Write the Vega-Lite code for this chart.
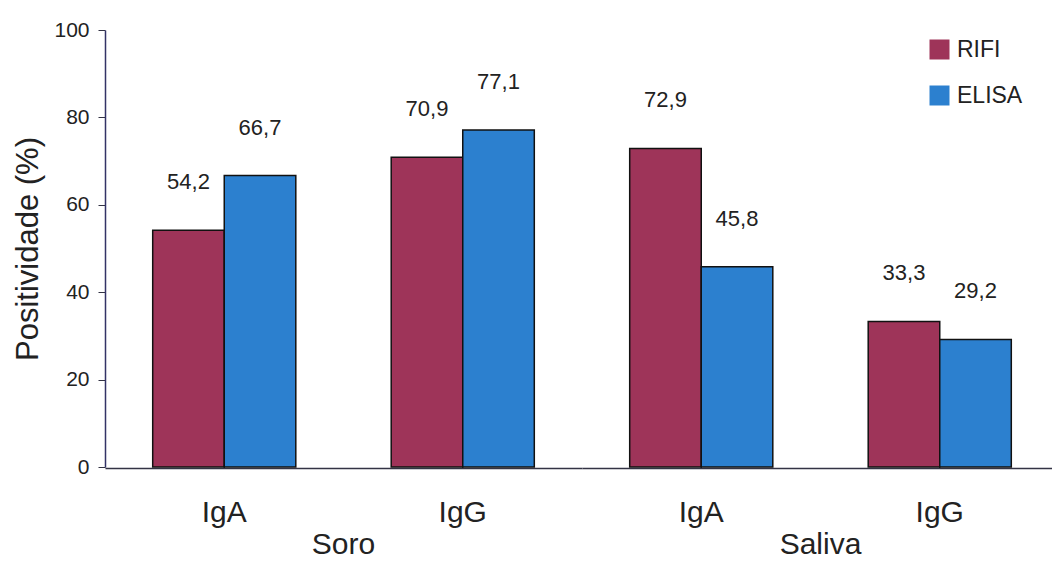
{
  "$schema": "https://vega.github.io/schema/vega-lite/v6.json",
  "background": "white",
  "padding": {"left": 12, "top": 19, "right": 0, "bottom": 0},
  "data": {
    "values": [
      {"grupo": "Soro", "ig": "IgA", "metodo": "RIFI", "valor": 54.2},
      {"grupo": "Soro", "ig": "IgA", "metodo": "ELISA", "valor": 66.7},
      {"grupo": "Soro", "ig": "IgG", "metodo": "RIFI", "valor": 70.9},
      {"grupo": "Soro", "ig": "IgG", "metodo": "ELISA", "valor": 77.1},
      {"grupo": "Saliva", "ig": "IgA", "metodo": "RIFI", "valor": 72.9},
      {"grupo": "Saliva", "ig": "IgA", "metodo": "ELISA", "valor": 45.8},
      {"grupo": "Saliva", "ig": "IgG", "metodo": "RIFI", "valor": 33.3},
      {"grupo": "Saliva", "ig": "IgG", "metodo": "ELISA", "valor": 29.2}
    ]
  },
  "facet": {
    "column": {
      "field": "grupo",
      "type": "nominal",
      "sort": ["Soro", "Saliva"],
      "header": {
        "title": null,
        "labelOrient": "bottom",
        "labelFont": "Liberation Sans",
        "labelFontSize": 30,
        "labelColor": "#222222",
        "labelPadding": 3
      }
    }
  },
  "spacing": 0,
  "spec": {
    "width": 477,
    "height": 437,
    "encoding": {
      "x": {
        "field": "ig",
        "type": "nominal",
        "sort": ["IgA", "IgG"],
        "scale": {"paddingInner": 0.4, "paddingOuter": 0.2},
        "axis": {
          "title": null,
          "labelAngle": 0,
          "labelFont": "Liberation Sans",
          "labelFontSize": 30,
          "labelColor": "#222222",
          "labelPadding": 29,
          "ticks": false,
          "domainColor": "#333344",
          "domainWidth": 1.5
        }
      },
      "xOffset": {
        "field": "metodo",
        "type": "nominal",
        "sort": ["RIFI", "ELISA"],
        "scale": {"paddingInner": 0, "paddingOuter": 0}
      },
      "y": {
        "field": "valor",
        "type": "quantitative",
        "scale": {"domain": [0, 100]},
        "axis": {
          "title": "Positividade (%)",
          "titleFont": "Liberation Sans",
          "titleFontSize": 31,
          "titleFontWeight": "normal",
          "titleColor": "#222222",
          "titlePadding": 9,
          "values": [0, 20, 40, 60, 80, 100],
          "grid": false,
          "labelFont": "Liberation Sans",
          "labelFontSize": 21,
          "labelColor": "#222222",
          "labelPadding": 9,
          "tickSize": 7,
          "tickColor": "#333344",
          "domainColor": "#333366",
          "domainWidth": 1.5
        }
      }
    },
    "layer": [
      {
        "mark": {"type": "bar", "stroke": "#111111", "strokeWidth": 1.5},
        "encoding": {
          "color": {
            "field": "metodo",
            "type": "nominal",
            "sort": ["RIFI", "ELISA"],
            "scale": {"domain": ["RIFI", "ELISA"], "range": ["#9e3459", "#2c80cf"]},
            "legend": {
              "title": null,
              "orient": "none",
              "legendX": 823,
              "legendY": 8,
              "symbolType": "square",
              "symbolSize": 400,
              "symbolStrokeWidth": 0,
              "labelFont": "Liberation Sans",
              "labelFontSize": 23,
              "labelColor": "#222222",
              "labelOffset": 6,
              "rowPadding": 22
            }
          }
        }
      },
      {
        "mark": {
          "type": "text",
          "dy": -48,
          "baseline": "middle",
          "font": "Liberation Sans",
          "fontSize": 22,
          "color": "#222222"
        },
        "encoding": {
          "text": {"field": "valor", "type": "quantitative", "format": ".1f"}
        }
      }
    ]
  },
  "config": {
    "view": {"stroke": null},
    "locale": {
      "number": {
        "decimal": ",",
        "thousands": ".",
        "grouping": [3],
        "currency": ["", ""]
      }
    }
  }
}
